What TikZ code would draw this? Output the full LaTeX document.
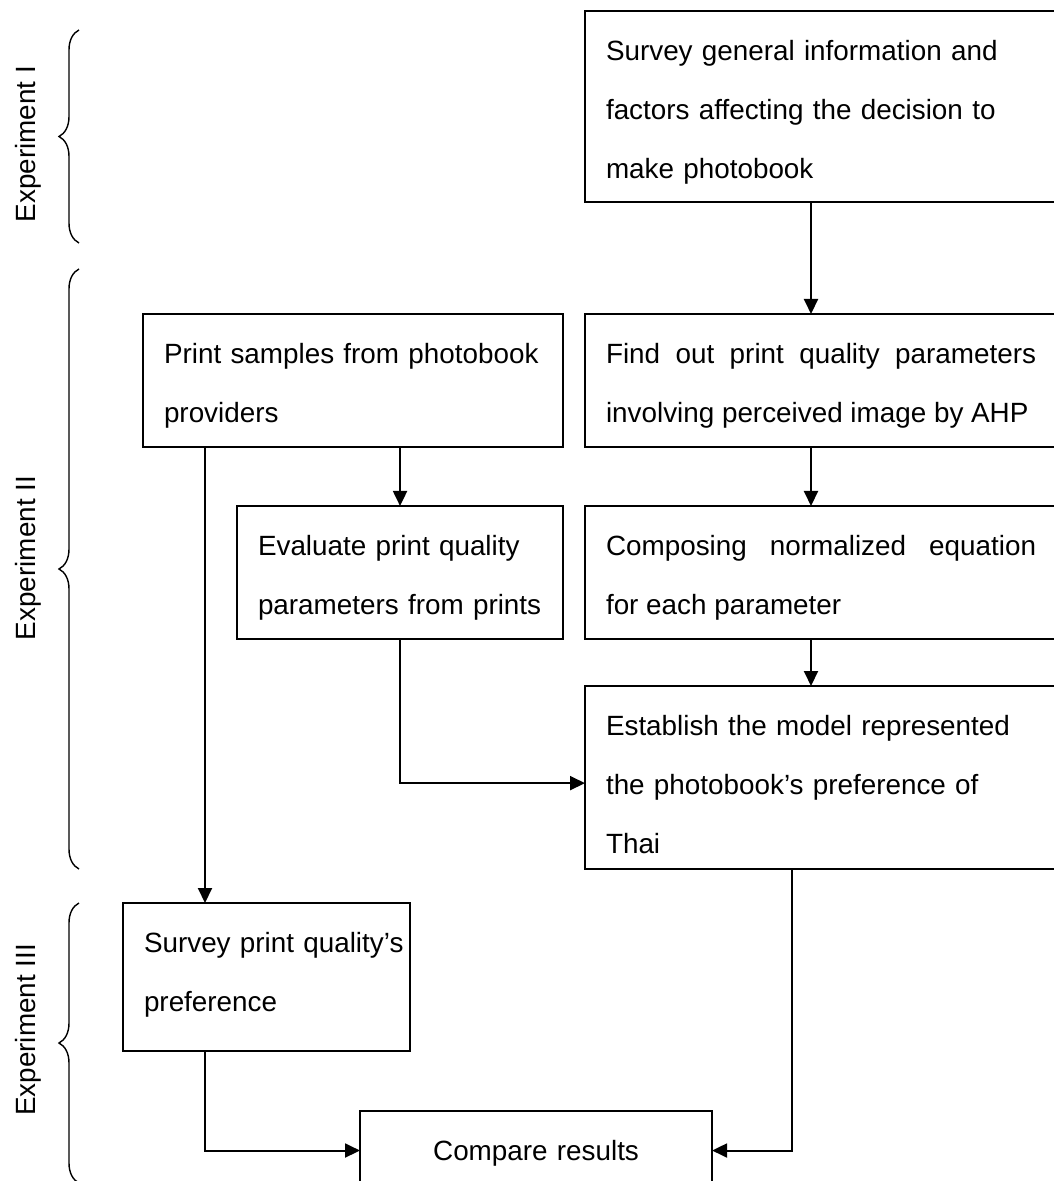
\documentclass[tikz,border=0pt]{standalone}
\usepackage{fontspec}
\setmainfont{Liberation Sans}
\usetikzlibrary{arrows.meta}
\usetikzlibrary{decorations.pathreplacing}
\newcommand{\boxfont}{\fontsize{19.8}{42.3}\selectfont}
\tolerance=9999
\hyphenpenalty=10000
\exhyphenpenalty=10000

\tikzset{
    stepbox/.style={draw, line width=1.4pt, anchor=north west, outer sep=0pt,
        align=left, font=\boxfont, inner xsep=0.525cm, inner ysep=0pt,
        text height=1.225cm, text depth=2.1cm},
    widebox/.style={stepbox, text width=10.75cm},
    expbrace/.style={decorate, decoration={brace, amplitude=0.5cm}, line width=1pt},
    explabel/.style={rotate=90, anchor=base, font=\boxfont}
}

\begin{document}
\begin{tikzpicture}[x=0.025cm, y=-0.025cm]
                \useasboundingbox (0,0) rectangle (1053,1181);

                \begin{scope}[every node/.style={stepbox}]
                    \node[widebox, text depth=3.55cm] (s1) at (585,11) {Survey general information and\\factors affecting the decision to\\make photobook};
                    \node[text width=9.45cm] (ps) at (143,314) {\mbox{Print samples from photobook}\\providers};
                    \node[widebox, align=justify] (fq) at (585,314) {Find out print quality parameters involving perceived image by AHP};
                    \node[text width=7.1cm] (ev) at (237,506) {Evaluate print quality\\\mbox{parameters from prints}};
                    \node[widebox, align=justify] (cn) at (585,506) {Composing normalized equation for each parameter};
                    \node[widebox, text depth=3.35cm] (es) at (585,686) {Establish the model represented\\the photobook’s preference of\\Thai};
                    \node[text width=6.125cm, text depth=2.475cm] (sp) at (123,903) {\mbox{Survey print quality’s}\\preference};
                    \node[text width=7.75cm, align=center, text depth=0.75cm] (cr) at (360,1111) {Compare results};
                \end{scope}

                \coordinate (colL) at (205,0);
                \coordinate (colM) at (792,0);
                \coordinate (colR) at (811,0);

                \begin{scope}[>={Triangle[length=0.375cm, width=0.35cm]},
                    every edge/.style={draw=black, line width=1.4pt}]
                    \path [->] (s1.south -| colR) edge (fq.north -| colR);
                    \path [->] (fq.south -| colR) edge (cn.north -| colR);
                    \path [->] (cn.south -| colR) edge (es.north -| colR);
                    \path [->] (ps.south -| ev.north) edge (ev.north);
                    \path [->] (ps.south -| colL) edge (sp.north -| colL);

                    \draw [->, line width=1.4pt] (ev.south) |- ([yshift=-0.14cm]es.west);
                    \draw [->, line width=1.4pt] (sp.south -| colL) |- (cr.west);
                    \draw [->, line width=1.4pt] (es.south -| colM) |- (cr.east);
                \end{scope}

                \draw [expbrace] (79,243) -- (79,30);
                \draw [expbrace] (79,869) -- (79,269);
                \draw [expbrace] (79,1183) -- (79,903);
                \node [explabel] (expI) at (35,144) {Experiment I};
                \node [explabel] (expII) at (35,558) {Experiment II};
                \node [explabel] (expIII) at (35,1030) {Experiment III};
\end{tikzpicture}
\end{document}
